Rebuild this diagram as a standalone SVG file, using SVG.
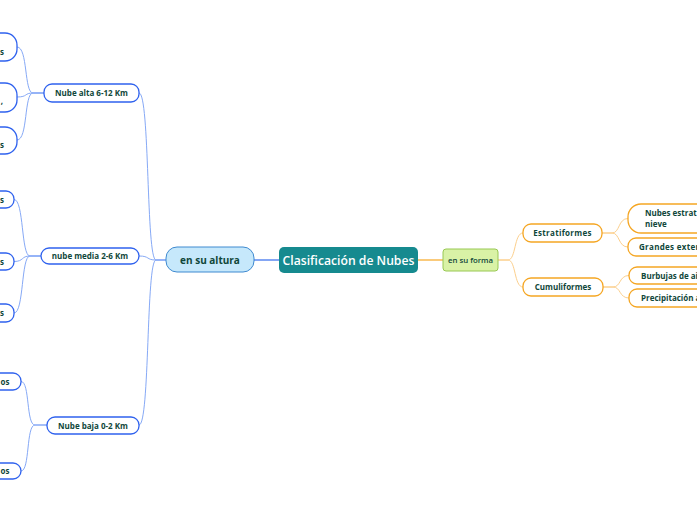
<svg xmlns="http://www.w3.org/2000/svg" width="697" height="520" viewBox="0 0 697 520">
<style>
text{font-family:"Open Sans","Noto Sans","Liberation Sans",sans-serif;font-weight:700;fill:#10473a}
.bl{fill:#fff;stroke:#2f62ee;stroke-width:1.3}
.or{fill:#fff;stroke:#f5a623;stroke-width:1.3}
.cb{fill:none;stroke:#86a9f6;stroke-width:1}
.cbs{fill:none;stroke:#4f80f0;stroke-width:1.4}
.co{fill:none;stroke:#fccf8c;stroke-width:1}
.cos{fill:none;stroke:#f8b442;stroke-width:1.4}
.s{font-size:8px}
</style>
<g id="connectors">
<line class="cbs" x1="254" y1="260" x2="279" y2="260"/>
<line class="cos" x1="418" y1="260" x2="443" y2="260"/>
<path class="cb" d="M166,260 L156,260 C146,260 150,93 139,93"/>
<path class="cb" d="M166,260 L156,260 C146,260 150,256 139,256"/>
<path class="cb" d="M166,260 L156,260 C146,260 150,425 139,425"/>
<path class="cb" d="M44,93 L33,93 C24,93 28,47 17,47"/>
<path class="cb" d="M44,93 L33,93 C24,93 28,97 17,97"/>
<path class="cb" d="M44,93 L33,93 C24,93 28,140 17,140"/>
<path class="cb" d="M41,256 L30,256 C21,256 24,199.5 14,199.5"/>
<path class="cb" d="M41,256 L30,256 C21,256 24,261.5 14,261.5"/>
<path class="cb" d="M41,256 L30,256 C21,256 24,313 14,313"/>
<path class="cb" d="M47,425 L35,425 C26,425 30,381.5 21,381.5"/>
<path class="cb" d="M47,425 L35,425 C26,425 30,471 21,471"/>
<path class="co" d="M498,260 L508,260 C516,260 514,233 523,233"/>
<path class="co" d="M498,260 L508,260 C516,260 514,287 523,287"/>
<path class="co" d="M602,233 L612,233 C620,233 618,218.5 628,218.5"/>
<path class="co" d="M602,233 L612,233 C620,233 618,247 628,247"/>
<path class="co" d="M603,287 L613,287 C621,287 619,275.5 629,275.5"/>
<path class="co" d="M603,287 L613,287 C621,287 619,298 629,298"/>
</g>
<g id="root">
<rect x="279" y="247" width="139" height="26" rx="5" fill="#168a8f"/>
<text x="348.5" y="264.5" text-anchor="middle" style="font-size:12.2px;fill:#fff;font-weight:600">Clasificación de Nubes</text>
</g>
<g id="altura">
<rect x="166" y="247" width="88" height="25" rx="11" fill="#c6e8fb" stroke="#3f8ad0" stroke-width="1"/>
<text x="210" y="263.5" text-anchor="middle" style="font-size:10px">en su altura</text>
</g>
<g id="forma">
<rect x="443" y="249" width="55" height="22" rx="3" fill="#d9f2a6" stroke="#98c852" stroke-width="1"/>
<text x="470.5" y="262.8" text-anchor="middle" style="font-size:7.8px;font-weight:600">en su forma</text>
</g>
<g id="alta">
<rect class="bl" x="44" y="84" width="95" height="18" rx="8"/>
<text class="s" x="91.5" y="96" text-anchor="middle">Nube alta 6-12 Km</text>
</g>
<g id="media">
<rect class="bl" x="41" y="248" width="98" height="16" rx="8"/>
<text class="s" x="90" y="259" text-anchor="middle">nube media 2-6 Km</text>
</g>
<g id="baja">
<rect class="bl" x="47" y="417" width="92" height="17" rx="8"/>
<text class="s" x="93" y="428.5" text-anchor="middle">Nube baja 0-2 Km</text>
</g>
<g id="leaf-a1"><rect class="bl" x="-100" y="33" width="117" height="28" rx="12"/><text class="s" x="4" y="55" text-anchor="end">s</text></g>
<g id="leaf-a2"><rect class="bl" x="-100" y="83" width="117" height="29" rx="12"/><text class="s" x="3" y="104" text-anchor="end">,</text></g>
<g id="leaf-a3"><rect class="bl" x="-100" y="127" width="117" height="27" rx="12"/><text class="s" x="4" y="148" text-anchor="end">s</text></g>
<g id="leaf-m1"><rect class="bl" x="-100" y="191" width="114" height="17" rx="8"/><text class="s" x="4" y="202.5" text-anchor="end">s</text></g>
<g id="leaf-m2"><rect class="bl" x="-100" y="253" width="114" height="17" rx="8"/><text class="s" x="4" y="264.5" text-anchor="end">s</text></g>
<g id="leaf-m3"><rect class="bl" x="-100" y="304" width="114" height="18" rx="8"/><text class="s" x="4" y="315.5" text-anchor="end">s</text></g>
<g id="leaf-b1"><rect class="bl" x="-100" y="373" width="121" height="17" rx="8"/><text class="s" x="9.5" y="384.5" text-anchor="end">os</text></g>
<g id="leaf-b2"><rect class="bl" x="-100" y="463" width="121" height="16" rx="8"/><text class="s" x="9.5" y="474" text-anchor="end">os</text></g>
<g id="estrat">
<rect class="or" x="523" y="224" width="79" height="18" rx="8"/>
<text class="s" x="562.5" y="236" text-anchor="middle" style="letter-spacing:0.3px">Estratiformes</text>
</g>
<g id="cumul">
<rect class="or" x="523" y="278" width="80" height="18" rx="8"/>
<text class="s" x="563" y="290" text-anchor="middle">Cumuliformes</text>
</g>
<g id="leaf-e1"><rect class="or" x="628" y="204" width="120" height="29" rx="13"/><text class="s" x="645" y="215.5">Nubes estrat</text><text class="s" x="645" y="226.5">nieve</text></g>
<g id="leaf-e2"><rect class="or" x="628" y="238" width="120" height="18" rx="8"/><text class="s" x="639" y="250" style="letter-spacing:0.3px">Grandes exten</text></g>
<g id="leaf-c1"><rect class="or" x="629" y="267" width="120" height="17" rx="8"/><text class="s" x="641" y="278.5">Burbujas de ai</text></g>
<g id="leaf-c2"><rect class="or" x="629" y="289" width="120" height="18" rx="8"/><text class="s" x="641" y="301">Precipitación a</text></g>
</svg>
